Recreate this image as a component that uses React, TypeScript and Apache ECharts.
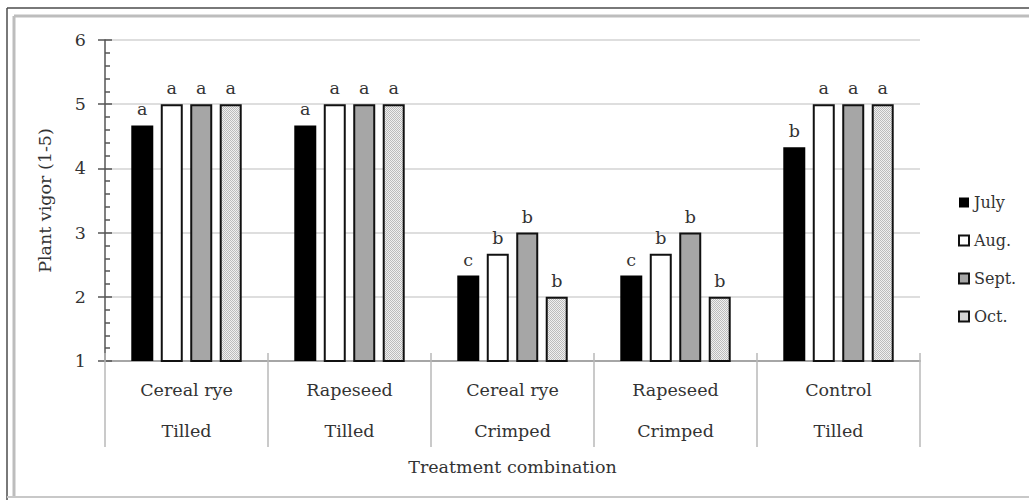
import React, { useEffect, useRef } from "react";
import * as echarts from "echarts";

const categories = ["Cereal rye", "Rapeseed", "Cereal rye", "Rapeseed", "Control"];
const treatments = ["Tilled", "Tilled", "Crimped", "Crimped", "Tilled"];
const seriesNames = ["July", "Aug.", "Sept.", "Oct."];
const july = [4.67, 4.67, 2.33, 2.33, 4.33];
const aug = [5, 5, 2.67, 2.67, 5];
const sept = [5, 5, 3, 3, 5];
const oct = [5, 5, 2, 2, 5];
const julyLetters = ["a", "a", "c", "c", "b"];
const augLetters = ["a", "a", "b", "b", "a"];
const septLetters = ["a", "a", "b", "b", "a"];
const octLetters = ["a", "a", "b", "b", "a"];

const FONT = "DejaVu Serif";
const TEXT = "#333333";
const FS = 17.5;

function makePattern(): string {
  const c = document.createElement("canvas");
  c.width = 2;
  c.height = 2;
  const ctx = c.getContext("2d");
  if (ctx) {
    ctx.fillStyle = "#f0f0f0";
    ctx.fillRect(0, 0, 2, 2);
    ctx.fillStyle = "#bcbcbc";
    ctx.fillRect(0, 0, 1, 1);
    ctx.fillRect(1, 1, 1, 1);
  }
  return c.toDataURL();
}

export default function App() {
  const ref = useRef<HTMLDivElement>(null);
  useEffect(() => {
    if (!ref.current) return;
    const chart = echarts.init(ref.current, null, { renderer: "svg" });
    const pattern = makePattern();
    const values = [july, aug, sept, oct];
    const letters = [julyLetters, augLetters, septLetters, octLetters];
    const fills: any[] = [
      "#000000",
      "#ffffff",
      "#a6a6a6",
      { image: pattern, repeat: "repeat" },
    ];
    const series = seriesNames.map((name, i) => ({
      name,
      type: "bar",
      xAxisIndex: 0,
      yAxisIndex: 0,
      data: values[i],
      barWidth: 22,
      barGap: "34%",
      itemStyle: {
        color: fills[i],
        borderColor: "#111111",
        borderWidth: i === 0 ? 0 : 2,
      },
      label: {
        show: true,
        position: "top",
        distance: 7,
        fontFamily: FONT,
        fontSize: FS,
        color: TEXT,
        formatter: (p: any) => letters[i][p.dataIndex],
      },
    }));
    const option: any = {
      animation: false,
      backgroundColor: "#ffffff",
      grid: { left: 105, right: 109, top: 40, bottom: 139, containLabel: false },
      legend: {
        orient: "vertical",
        left: 953,
        top: 189,
        itemWidth: 10,
        itemHeight: 10,
        itemGap: 21,
        icon: "rect",
        textStyle: { fontFamily: FONT, fontSize: 16, color: TEXT, lineHeight: 17 },
        data: seriesNames,
      },
      xAxis: [
        {
          type: "category",
          data: categories,
          position: "bottom",
          axisLine: { show: true, lineStyle: { color: "#a6a6a6", width: 2 } },
          axisTick: {
            show: true,
            interval: 0,
            length: 86,
            alignWithLabel: false,
            lineStyle: { color: "#b8b8b8", width: 1.5 },
          },
          axisLabel: {
            interval: 0,
            margin: 8,
            fontFamily: FONT,
            fontSize: FS,
            lineHeight: 41,
            color: TEXT,
            formatter: (v: string, idx: number) => v + "\n" + treatments[idx],
          },
          name: "Treatment combination",
          nameLocation: "middle",
          nameGap: 97,
          nameTextStyle: { fontFamily: FONT, fontSize: FS, color: TEXT },
          splitLine: { show: false },
        },
        {
          type: "category",
          data: categories,
          position: "bottom",
          axisLine: { show: false },
          axisTick: {
            show: true,
            inside: true,
            interval: 0,
            length: 8,
            lineStyle: { color: "#b8b8b8", width: 1.5 },
          },
          axisLabel: { show: false },
          splitLine: { show: false },
        },
      ],
      yAxis: [
        {
          type: "value",
          min: 1,
          max: 6,
          interval: 1,
          position: "left",
          axisLine: { show: true, lineStyle: { color: "#555555", width: 1.5 } },
          axisTick: { show: true, inside: true, length: 7, lineStyle: { color: "#555555", width: 1.5 } },
          minorTick: { show: true, splitNumber: 5, length: 5, lineStyle: { color: "#555555", width: 1.5 } },
          splitLine: { show: true, lineStyle: { color: "#dedede", width: 2 } },
          axisLabel: { margin: 19, fontFamily: FONT, fontSize: FS, color: TEXT },
          name: "Plant vigor (1-5)",
          nameLocation: "middle",
          nameGap: 51,
          nameTextStyle: { fontFamily: FONT, fontSize: FS, color: TEXT },
        },
        {
          type: "value",
          min: 1,
          max: 6,
          interval: 1,
          position: "left",
          axisLine: { show: false },
          axisTick: { show: true, inside: false, length: 7, lineStyle: { color: "#555555", width: 1.5 } },
          axisLabel: { show: false },
          splitLine: { show: false },
        },
      ],
      series,
      graphic: [
        { type: "line", shape: { x1: 7, y1: 8, x2: 1029, y2: 8 }, style: { stroke: "#4d4d4d", lineWidth: 1.5 } },
        { type: "line", shape: { x1: 7, y1: 8, x2: 7, y2: 500 }, style: { stroke: "#4d4d4d", lineWidth: 1.5 } },
        { type: "line", shape: { x1: 14, y1: 16, x2: 1029, y2: 16 }, style: { stroke: "#bdbdbd", lineWidth: 3 } },
        { type: "line", shape: { x1: 14, y1: 16, x2: 14, y2: 497 }, style: { stroke: "#bdbdbd", lineWidth: 3 } },
        { type: "line", shape: { x1: 7, y1: 497, x2: 1029, y2: 497 }, style: { stroke: "#c8c8c8", lineWidth: 2 } },
      ],
    };
    chart.setOption(option);
    return () => chart.dispose();
  }, []);
  return (
    <div
      ref={ref}
      style={{ position: "fixed", left: 0, top: 0, width: 1029, height: 500 }}
    />
  );
}
